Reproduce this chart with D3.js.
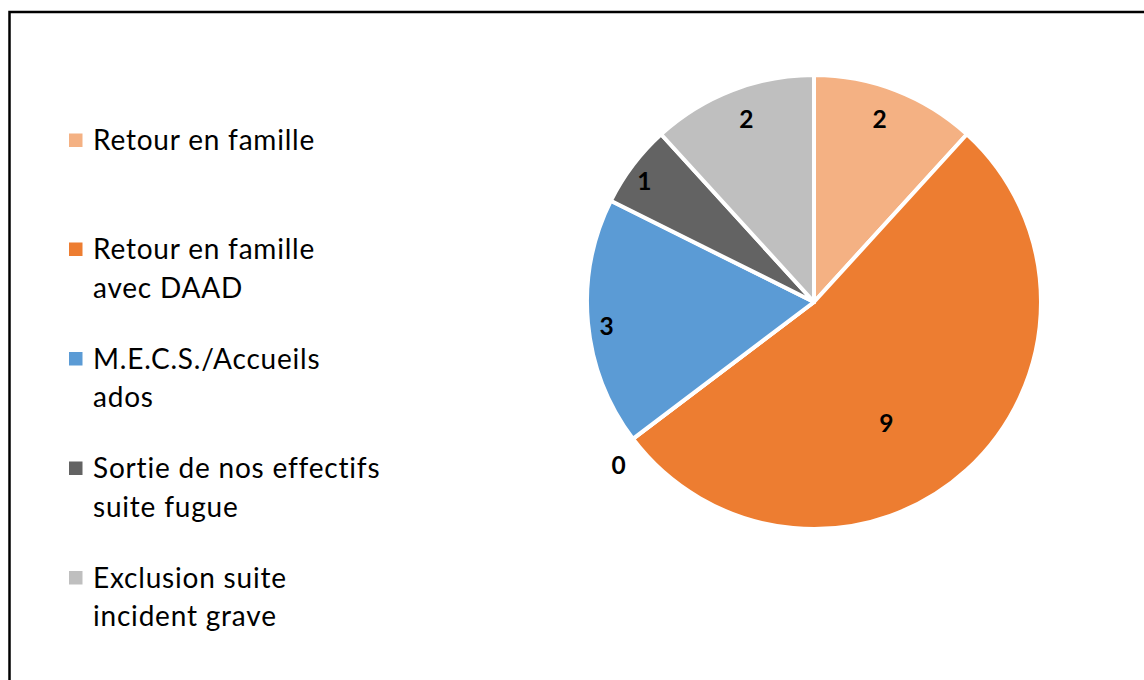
<!DOCTYPE html>
<html>
<head>
<meta charset="utf-8">
<script src="https://cdn.jsdelivr.net/npm/d3@7"></script>
<style>
  body { margin: 0; background: #fff; }
  svg { display: block; }
  .legendText { font-family: Lato, "Open Sans", sans-serif; font-size: 28px; letter-spacing: 0.8px; font-variant-ligatures: none; fill: #000; }
  .sliceLabel { font-family: Lato, "Open Sans", sans-serif; font-size: 24.5px; font-weight: bold; fill: #000; }
</style>
</head>
<body>
<script>
//chart data, in pie order (clockwise from the top)
var categories = ["Retour en famille", "Retour en famille avec DAAD", "", "M.E.C.S./Accueils ados", "Sortie de nos effectifs suite fugue", "Exclusion suite incident grave"];
var values = [2, 9, 0, 3, 1, 2];
//legend lines, one entry per shown category
var legendLines = [["Retour en famille"], ["Retour en famille", "avec DAAD"], ["M.E.C.S./Accueils", "ados"], ["Sortie de nos effectifs", "suite fugue"], ["Exclusion suite", "incident grave"]];
var legendIndex = [0, 1, 3, 4, 5];
var colors = ["#F4B183", "#ED7D31", "#FFC000", "#5B9BD5", "#636363", "#BFBFBF"];

//label placement ("best fit"): radius factor and angle nudge in degrees, per slice
var labelPlacement = [[0.86, -1.5], [0.62, 11.4], [1.12, -2.7], [0.92, -1.3], [0.92, -1.4], [0.86, 0.9]];

var width = 1144, height = 680;

var svg = d3.select("body")
    .append("svg")
    .attr("width", width)
    .attr("height", height);

//chart frame (runs off the right and bottom edges)
svg.append("rect")
    .attr("x", 9.5)
    .attr("y", 12)
    .attr("width", 1300)
    .attr("height", 900)
    .attr("fill", "none")
    .attr("stroke", "#000")
    .attr("stroke-width", 2.5);

var cx = 814, cy = 302, radius = 227;

var pie = d3.pie()
    .sort(null)
    .value(function(d){ return d; });

var arcs = pie(values);

var arc = d3.arc()
    .innerRadius(0)
    .outerRadius(radius);

var g = svg.append("g")
    .attr("transform", "translate(" + cx + "," + cy + ")");

g.selectAll(".slice")
    .data(arcs)
    .enter()
    .append("path")
    .attr("class", "slice")
    .attr("d", arc)
    .attr("fill", function(d, i){ return colors[i]; })
    .attr("stroke", "#fff")
    .attr("stroke-width", 4)
    .attr("stroke-linejoin", "round");

//data labels
function labelPos(d, i){
    var a = (d.startAngle + d.endAngle) / 2 + labelPlacement[i][1] * Math.PI / 180,
        r = radius * labelPlacement[i][0];
    return [Math.sin(a) * r, -Math.cos(a) * r];
}

g.selectAll(".sliceLabel")
    .data(arcs)
    .enter()
    .append("text")
    .attr("class", "sliceLabel")
    .attr("text-anchor", "middle")
    .attr("dominant-baseline", "central")
    .attr("x", function(d, i){ return labelPos(d, i)[0]; })
    .attr("y", function(d, i){ return labelPos(d, i)[1]; })
    .text(function(d){ return d.value; });

//legend
var legendY = d3.scaleLinear()
    .domain([0, 1])
    .range([150, 259]);
var lineHeight = 38.5;

var legend = svg.selectAll(".legendItem")
    .data(legendIndex)
    .enter()
    .append("g")
    .attr("class", "legendItem")
    .attr("transform", function(d, i){
        var y = i === 0 ? legendY(0) : legendY(1) + (i - 1) * 109.5;
        return "translate(0," + y + ")";
    });

legend.append("rect")
    .attr("x", 69)
    .attr("y", -16.5)
    .attr("width", 13.5)
    .attr("height", 13.5)
    .attr("fill", function(d){ return colors[d]; });

legend.append("text")
    .attr("class", "legendText")
    .attr("x", 93)
    .selectAll("tspan")
    .data(function(d, i){ return legendLines[i]; })
    .enter()
    .append("tspan")
    .attr("x", 93)
    .attr("y", function(d, j){ return j * lineHeight; })
    .text(function(d){ return d; });
</script>
</body>
</html>
